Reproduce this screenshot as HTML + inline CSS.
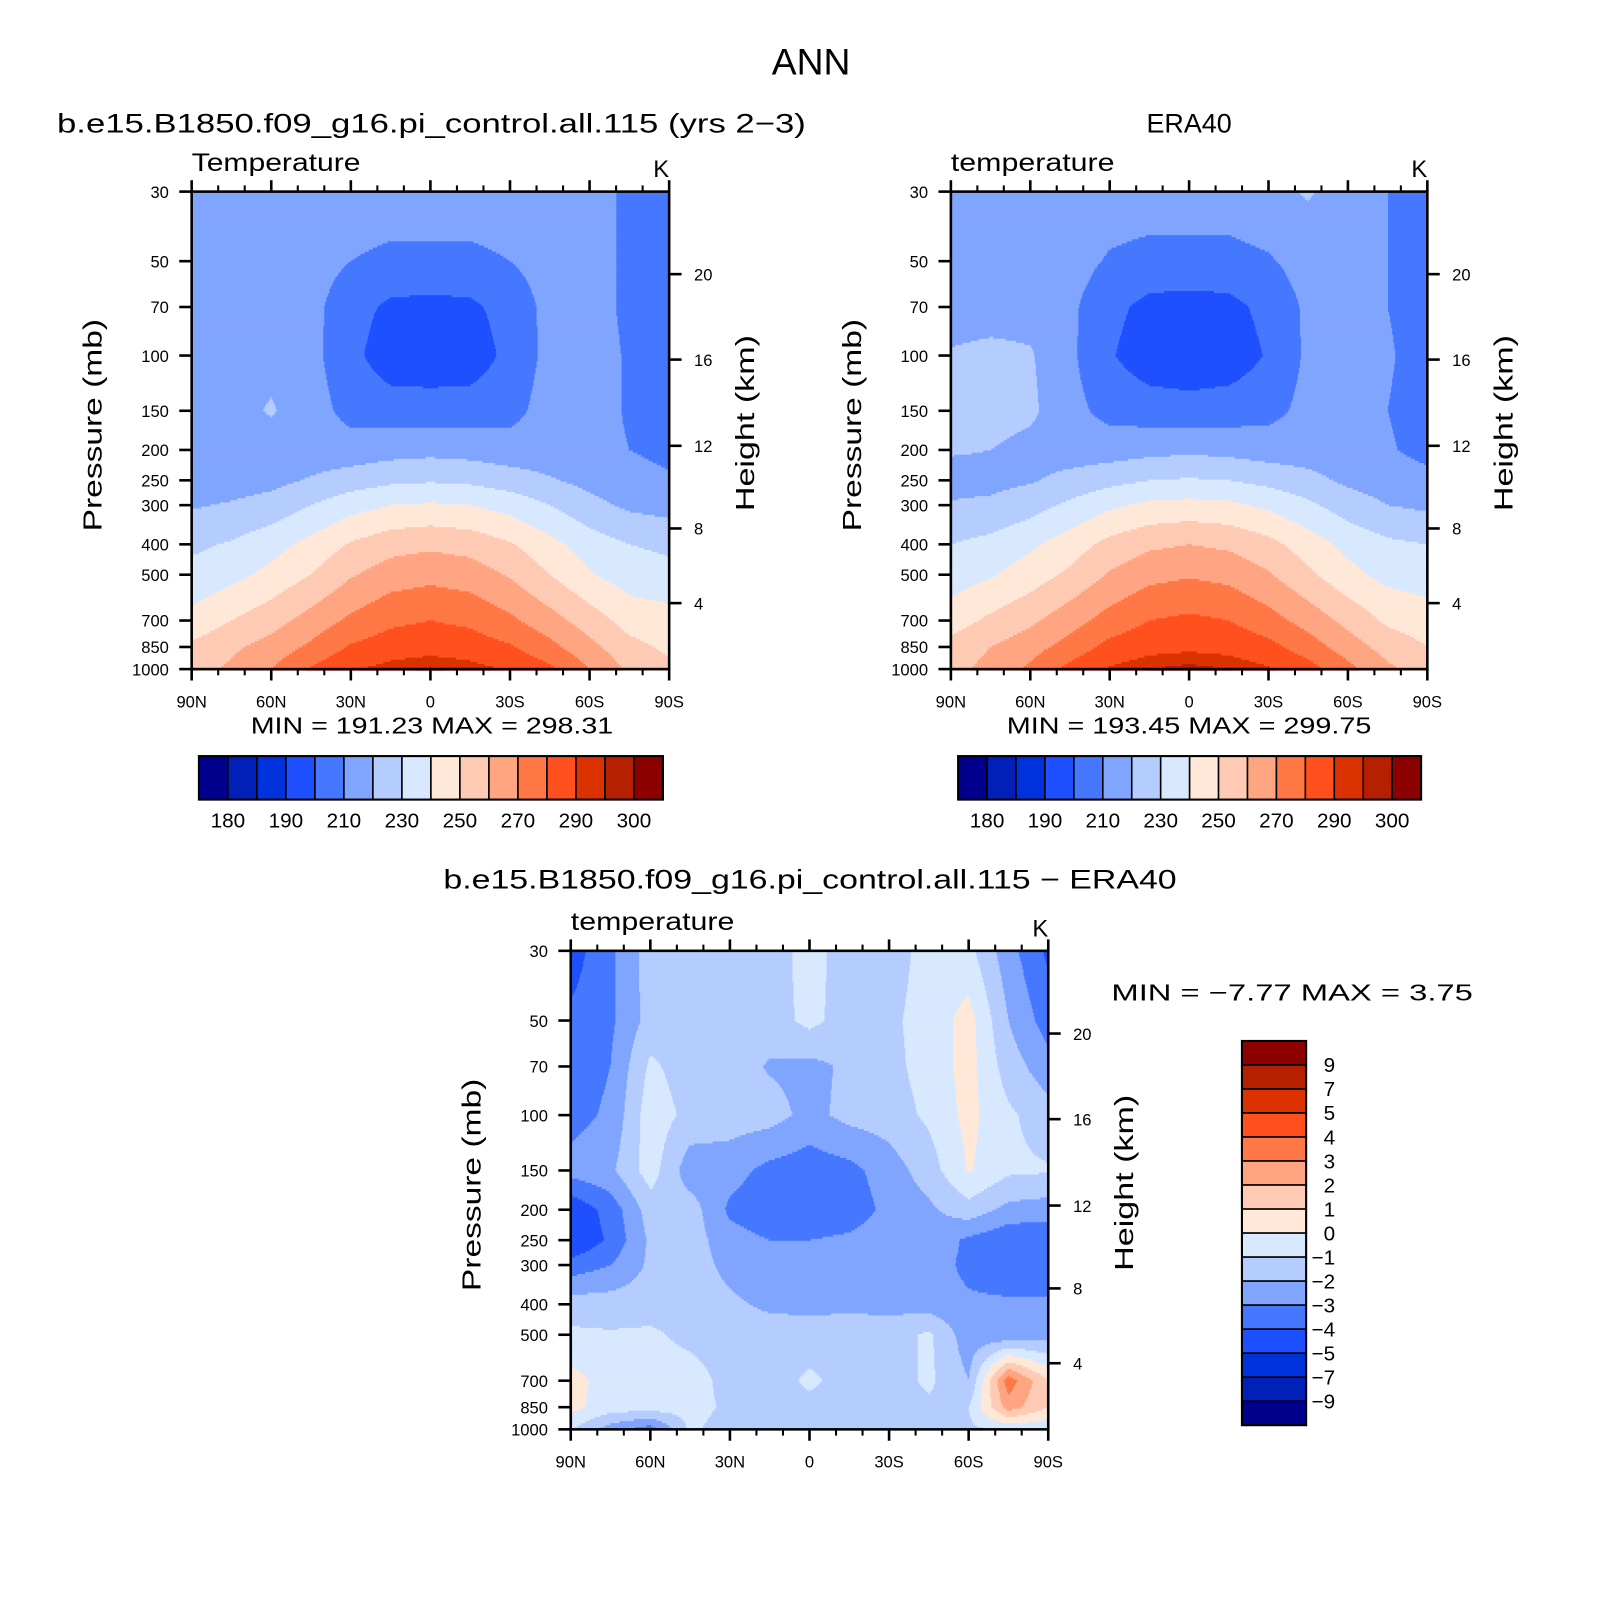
<!DOCTYPE html>
<html><head><meta charset="utf-8"><style>
html,body{margin:0;padding:0;background:#fff;}
svg{display:block;}
text{font-family:"Liberation Sans",sans-serif;fill:#000;}
</style></head><body>
<svg id="fig" xmlns="http://www.w3.org/2000/svg" width="1619" height="1622" viewBox="0 0 1563 1566">
<rect x="0" y="0" width="1563" height="1566" fill="#fff"/>
<text x="783" y="72" font-size="36" text-anchor="middle">ANN</text>
<text x="55" y="128" font-size="26" textLength="723" lengthAdjust="spacingAndGlyphs">b.e15.B1850.f09_g16.pi_control.all.115 (yrs 2−3)</text>
<text x="1148" y="128" font-size="26" text-anchor="middle">ERA40</text>
<text x="428" y="858" font-size="26" textLength="708" lengthAdjust="spacingAndGlyphs">b.e15.B1850.f09_g16.pi_control.all.115 − ERA40</text>
<g id="layer"></g>
</svg>
<script>
// ---- shared axes data ----
const lats = [90,75,60,45,30,15,0,-15,-30,-45,-60,-75,-90];
const levels = [30,50,70,100,150,200,250,300,400,500,700,850,1000];
const xTickLats = [90,60,30,0,-30,-60,-90];
const xTickLabels = ["90N","60N","30N","0","30S","60S","90S"];
const xMinorLats = [80,70,50,40,20,10,-10,-20,-40,-50,-70,-80];
const yTickLabels = ["30","50","70","100","150","200","250","300","400","500","700","850","1000"];
const heightKm = [4,8,12,16,20];
const heightP = [616,356,194,103,55];
const palette = ["#00008c","#0020b8","#0032dc","#1e50ff","#4678ff","#80a5ff","#b4ccff","#d7e8ff","#ffe8d7","#ffcab4","#ffa582","#ff7846","#ff501e","#dc3200","#b42000","#8c0000"];
const tempLevels = [180,185,190,200,210,220,230,240,250,260,270,280,290,295,300];
const tempLabelText = ["180","190","210","230","250","270","290","300"];
const diffLevels = [-9,-7,-5,-4,-3,-2,-1,0,1,2,3,4,5,7,9];
const diffLabelText = ["9","7","5","4","3","2","1","0","−1","−2","−3","−4","−5","−7","−9"];

// ---- model temperature (K), rows = levels, cols = lats ----
const modelT = [
[215,215,215,215,215,215,215,215,215,215,214,208,205],
[216,216,216,214,210,208,208,208,210,214,214,208,205],
[216,216,216,213,204,198,197,198,204,213,214,208,204],
[216,217,217,213,203,194,193,194,203,213,214,209,205],
[215,216,221,214,207,205,205,205,207,214,214,209,206],
[214,215,215,214,214,216,217,216,214,214,213,210,208],
[214,215,217,221,225,228,229,228,225,221,217,213,211],
[219,221,224,230,236,240,241,240,236,230,223,218,216],
[228,231,236,243,251,256,258,256,251,243,235,230,228],
[233,237,243,250,259,265,267,265,259,250,241,235,233],
[243,250,256,264,272,278,280,278,272,264,255,246,244],
[252,258,264,272,281,285,286,285,281,273,263,253,248],
[255,262,270,281,289,293,296,293,289,282,270,258,252]];

// ---- ERA40 temperature (K) ----
const eraT = [
[215,215,215,215,215,215,215,215,217,221,215,210,206],
[215,215,215,214,209,207,207,207,209,214,215,210,206],
[215,215,216,212,203,197,196,197,203,212,215,210,206],
[221,223,221,212,201,194,193,194,201,212,215,211,206],
[224,224,222,213,207,205,204,205,207,213,214,210,206],
[221,220,217,215,215,217,218,217,215,215,214,211,207],
[216,217,219,223,227,230,231,230,227,223,218,215,213],
[221,222,226,232,238,242,243,242,238,232,225,220,218],
[230,233,238,245,253,258,260,258,253,245,237,232,230],
[235,239,245,252,261,267,269,267,261,252,243,237,235],
[245,252,258,266,274,280,282,280,274,266,257,248,245],
[254,260,266,274,283,287,288,287,283,275,265,256,250],
[257,263,272,283,291,295,297,295,291,284,273,262,255]];

// ---- difference (K) ----
const diffT = [
[-4.5,-3.2,-1.5,-1.5,-1.2,-1.5,-0.6,-1.5,-1.5,-0.6,-0.7,-2.6,-4.2],
[-3.8,-3.2,-1.6,-1.5,-1.5,-1.5,-0.7,-1.5,-1.2,-0.6,0.4,-2.0,-3.5],
[-3.6,-3.0,-0.8,-1.5,-1.5,-2.1,-2.3,-1.8,-1.3,-0.6,0.4,-1.5,-2.6],
[-3.4,-2.8,-0.4,-1.3,-1.5,-1.6,-2.3,-1.7,-1.5,-0.8,0.3,-0.8,-1.6],
[-2.6,-2.2,-0.5,-2.6,-2.6,-3.3,-3.6,-3.3,-2.5,-1.5,0.1,-0.8,-0.9],
[-4.8,-3.6,-1.5,-1.5,-3.2,-3.7,-3.8,-3.6,-2.7,-2.2,-1.4,-2.3,-2.5],
[-5.0,-3.8,-1.8,-1.5,-2.6,-3.0,-3.0,-2.8,-2.4,-2.3,-3.2,-3.8,-3.8],
[-3.6,-3.0,-1.8,-1.5,-2.3,-2.8,-2.8,-2.5,-2.5,-2.4,-3.3,-3.8,-3.9],
[-1.5,-1.5,-1.5,-1.5,-1.8,-2.2,-2.3,-2.2,-2.3,-2.5,-2.8,-2.8,-2.8],
[-0.8,-0.9,-0.8,-1.3,-1.5,-1.5,-1.5,-1.5,-1.5,-0.8,-2.6,-2.8,-2.5],
[0.4,-0.5,-0.5,-0.5,-1.4,-1.5,-0.8,-1.4,-1.5,-0.8,-2.0,3.6,1.0],
[0.3,-0.5,-0.5,-0.6,-1.2,-1.5,-1.3,-1.5,-1.5,-1.2,-1.0,2.5,1.0],
[-0.9,-2.5,-3.5,-0.8,-1.5,-1.6,-1.5,-1.6,-1.5,-1.2,-1.2,-0.8,-0.9]];

const NS = "http://www.w3.org/2000/svg";
const layer = document.getElementById("layer");
function mk(tag, attrs, parent){
  const e = document.createElementNS(NS, tag);
  for (const k in attrs) e.setAttribute(k, attrs[k]);
  (parent||layer).appendChild(e);
  return e;
}
function txt(s, attrs, parent){ const t = mk("text", attrs, parent); t.textContent = s; return t; }
const L0 = Math.log10(30), L1 = Math.log10(1000);
const logLev = levels.map(p => Math.log10(p));

function sample(grid, latFrac, lp){
  let cx = latFrac * (lats.length - 1);
  let i = Math.min(Math.floor(cx), lats.length - 2); const fx = cx - i;
  let j = 0;
  while (j < levels.length - 2 && lp > logLev[j+1]) j++;
  const fy = Math.max(0, Math.min(1, (lp - logLev[j]) / (logLev[j+1] - logLev[j])));
  const a = grid[j][i], b = grid[j][i+1], c = grid[j+1][i], d = grid[j+1][i+1];
  return (a*(1-fx)+b*fx)*(1-fy) + (c*(1-fx)+d*fx)*fy;
}
function levelIndex(v, lev){ let k = 0; while (k < lev.length && v >= lev[k]) k++; return k; }

function panel(cfg){
  const g = mk("g", {});
  
  
  const X0 = cfg.x, Y0 = cfg.y, W = cfg.w, H = cfg.h;
  const xScale = lat => X0 + (90 - lat) / 180 * W;
  const yScale = p => Y0 + (Math.log10(p) - L0) / (L1 - L0) * H;
  const fill = mk("g", {}, g);
  
  
  const step = 2;
  for (let py = 0; py < H; py += step){
    const lp = L0 + (py + step/2) / H * (L1 - L0);
    let runStart = 0, runK = -1;
    for (let px = 0; px <= W; px++){
      let k = -2;
      if (px < W){ const v = sample(cfg.grid, (px + 0.5) / W, lp); k = levelIndex(v, cfg.lev); }
      if (k !== runK){
        if (runK >= 0){
          const r = mk("rect", {x: X0 + runStart, y: Y0 + py, width: px - runStart + 0.6, height: step + 0.6, fill: palette[runK]}, fill);
          
          
        }
        runStart = px; runK = k;
      }
    }
  }
  const ax = mk("g", {stroke: "#000", "stroke-width": 2.5, fill: "none"}, g);
  const frame = mk("rect", {x: X0, y: Y0, width: W, height: H}, ax);
  
  
  xTickLats.forEach((lat, i) => {
    const x = xScale(lat);
    mk("line", {x1: x, y1: Y0, x2: x, y2: Y0 - 11}, ax);
    mk("line", {x1: x, y1: Y0 + H, x2: x, y2: Y0 + H + 11}, ax);
    const t = txt(xTickLabels[i], {x: x, y: Y0 + H + 37, "font-size": 16, "text-anchor": "middle"}, g);
    
    
  });
  xMinorLats.forEach(lat => {
    const x = xScale(lat);
    mk("line", {x1: x, y1: Y0, x2: x, y2: Y0 - 6, "stroke-width": 2}, ax);
    mk("line", {x1: x, y1: Y0 + H, x2: x, y2: Y0 + H + 6, "stroke-width": 2}, ax);
  });
  levels.forEach((p, i) => {
    const y = yScale(p);
    mk("line", {x1: X0, y1: y, x2: X0 - 12, y2: y}, ax);
    const t = txt(yTickLabels[i], {x: X0 - 22, y: y + 6, "font-size": 16, "text-anchor": "end"}, g);
    
    
  });
  heightP.forEach((p, i) => {
    const y = yScale(p);
    mk("line", {x1: X0 + W, y1: y, x2: X0 + W + 12, y2: y}, ax);
    const t = txt(String(heightKm[i]), {x: X0 + W + 24, y: y + 6, "font-size": 16}, g);
    
    
  });
  const lt = txt(cfg.label, {x: X0, y: Y0 - 20, "font-size": 24, textLength: cfg.labelLen, lengthAdjust: "spacingAndGlyphs"}, g);
  
  
  const kt = txt("K", {x: X0 + W, y: Y0 - 14, "font-size": 23, "text-anchor": "end"}, g);
  
  
  const cyl = Y0 + H/2 - 5;
  const yt = txt("Pressure  (mb)", {x: 0, y: 0, "font-size": 25, "text-anchor": "middle", textLength: 205, lengthAdjust: "spacingAndGlyphs", transform: `translate(${X0 - 87},${cyl}) rotate(-90)`}, g);
  
  
  const ht = txt("Height  (km)", {x: 0, y: 0, "font-size": 25, "text-anchor": "middle", textLength: 170, lengthAdjust: "spacingAndGlyphs", transform: `translate(${X0 + W + 82},${Y0 + H/2 - 7}) rotate(-90)`}, g);
  
  
}

function hColorbar(x, y, w, h, name){
  const g = mk("g", {});
  
  
  const bw = w / palette.length;
  palette.forEach((c, i) => {
    const r = mk("rect", {x: x + i*bw, y: y, width: bw, height: h, fill: c, stroke: "#000", "stroke-width": 1.5}, g);
    
    
  });
  mk("rect", {x: x, y: y, width: w, height: h, fill: "none", stroke: "#000", "stroke-width": 2}, g);
  tempLabelText.forEach((s, i) => {
    const t = txt(s, {x: x + (1 + 2*i)*bw, y: y + h + 27, "font-size": 20, "text-anchor": "middle"}, g);
    
    
  });
}

panel({name: "model-temperature-panel", x: 185, y: 185, w: 461, h: 461, grid: modelT, lev: tempLevels, label: "Temperature", labelLen: 163});
panel({name: "era40-temperature-panel", x: 918, y: 185, w: 460, h: 461, grid: eraT, lev: tempLevels, label: "temperature", labelLen: 158});
panel({name: "difference-panel", x: 551, y: 918, w: 461, h: 462, grid: diffT, lev: diffLevels, label: "temperature", labelLen: 158});

const m1 = txt("MIN = 191.23   MAX = 298.31", {x: 242, y: 708, "font-size": 22, textLength: 350, lengthAdjust: "spacingAndGlyphs"});


const m2 = txt("MIN = 193.45   MAX = 299.75", {x: 972, y: 708, "font-size": 22, textLength: 352, lengthAdjust: "spacingAndGlyphs"});


const m3 = txt("MIN =   −7.77   MAX =     3.75", {x: 1073, y: 966, "font-size": 22, textLength: 349, lengthAdjust: "spacingAndGlyphs"});



hColorbar(192, 730, 448, 42, "model-colorbar");
hColorbar(925, 730, 447, 42, "era40-colorbar");

const vg = mk("g", {});


const vx = 1199, vy = 1005, vw = 62, vh = 371, bh = vh / palette.length;
palette.slice().reverse().forEach((c, i) => {
  const r = mk("rect", {x: vx, y: vy + i*bh, width: vw, height: bh, fill: c, stroke: "#000", "stroke-width": 1.5}, vg);
  
  
});
mk("rect", {x: vx, y: vy, width: vw, height: vh, fill: "none", stroke: "#000", "stroke-width": 2}, vg);
diffLabelText.forEach((s, i) => {
  const t = txt(s, {x: 1289, y: vy + (i+1)*bh + 7, "font-size": 20, "text-anchor": "end"}, vg);
  
  
});
</script>
</body></html>
